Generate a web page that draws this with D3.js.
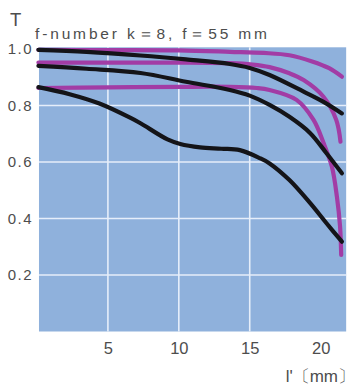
<!DOCTYPE html>
<html>
<head>
<meta charset="utf-8">
<script src="https://cdn.jsdelivr.net/npm/d3@7"></script>
<style>
  html, body { margin: 0; padding: 0; background: #ffffff; }
  svg { display: block; }
  text { font-family: "Liberation Sans", Arial, sans-serif; fill: #4d4d4d; }
</style>
</head>
<body>
<svg id="chart" width="359" height="392"></svg>
<script>
// ---- data ----
const xTicks = [5, 10, 15, 20];
const yTicks = [0.2, 0.4, 0.6, 0.8, 1.0];
const xGrid = [5, 10, 15];
const yGrid = [0.2, 0.4, 0.6, 0.8];

const purple1 = [[0.1,0.997],[5,0.996],[10,0.995],[13.6,0.99],[16,0.986],[17.8,0.978],[19.4,0.956],[20.6,0.932],[21.5,0.902]];
const purple2 = [[0.1,0.952],[5,0.952],[10,0.952],[13.6,0.950],[15.2,0.945],[16.4,0.936],[17.8,0.914],[18.8,0.89],[20.2,0.831],[21.1,0.749],[21.4,0.672]];
const purple3 = [[0.1,0.862],[5,0.864],[10,0.866],[13.6,0.866],[15.5,0.862],[16.4,0.855],[18.3,0.82],[19.5,0.749],[20.2,0.668],[20.8,0.582],[21.15,0.476],[21.37,0.371],[21.45,0.271]];
const black1 = [[0.1,0.997],[3.5,0.99],[7.3,0.977],[10.5,0.963],[13.6,0.947],[15.0,0.933],[16.4,0.908],[18.8,0.849],[20.2,0.813],[21.5,0.772]];
const black2 = [[0.1,0.94],[3.5,0.93],[7.3,0.915],[10.5,0.884],[13.6,0.855],[15,0.835],[16.4,0.802],[17.8,0.76],[19.25,0.703],[20.4,0.632],[21.5,0.56]];
const black3 = [[0.1,0.865],[2.3,0.84],[4.4,0.807],[6.6,0.756],[7.3,0.737],[9.2,0.68],[10.1,0.664],[11.5,0.652],[13.0,0.647],[14.3,0.642],[15.7,0.614],[16.4,0.595],[17.8,0.536],[19.25,0.455],[20.4,0.384],[21.5,0.318]];

const purpleSeries = [purple1, purple2, purple3];
const blackSeries = [black1, black2, black3];

// ---- layout ----
const svg = d3.select("#chart");
const x = d3.scaleLinear().domain([0, 22]).range([37, 349]);
const y = d3.scaleLinear().domain([0, 1]).range([331.5, 49]);

// plot background
svg.append("rect")
  .attr("x", x(0.14)).attr("y", y(1.006))
  .attr("width", x(21.8) - x(0.14))
  .attr("height", y(0) - y(1.006))
  .attr("fill", "#8fb1dc");

// grid
svg.append("g").selectAll("line").data(yGrid).join("line")
  .attr("x1", x(0.14)).attr("x2", x(21.8))
  .attr("y1", d => y(d)).attr("y2", d => y(d))
  .attr("stroke", "#e6eefa").attr("stroke-width", 1.6);
svg.append("g").selectAll("line").data(xGrid).join("line")
  .attr("x1", d => x(d)).attr("x2", d => x(d))
  .attr("y1", y(1.006)).attr("y2", y(0))
  .attr("stroke", "#e6eefa").attr("stroke-width", 1.6);

// axes (labels only)
const xAxis = d3.axisBottom(x).tickValues(xTicks).tickSize(0).tickPadding(0).tickFormat(d3.format("d"));
const gx = svg.append("g").attr("transform", `translate(0, ${y(0) + 11})`).call(xAxis);
gx.select(".domain").remove();
gx.selectAll("text").attr("font-size", 16.5).attr("dy", "0.71em")
  .attr("font-family", "'Liberation Sans', Arial, sans-serif").attr("fill", "#4d4d4d");

const yAxis = d3.axisLeft(y).tickValues(yTicks).tickSize(0).tickPadding(0).tickFormat(d3.format(".1f"));
const gy = svg.append("g").attr("transform", `translate(33, 0)`).call(yAxis);
gy.select(".domain").remove();
gy.selectAll("text").attr("font-size", 15).attr("letter-spacing", 1.5)
  .attr("font-family", "'Liberation Sans', Arial, sans-serif").attr("fill", "#4d4d4d");

// curves
const line = d3.line().x(d => x(d[0])).y(d => y(d[1])).curve(d3.curveCatmullRom.alpha(0.5));
svg.append("g").selectAll("path").data(purpleSeries).join("path")
  .attr("d", line).attr("fill", "none")
  .attr("stroke", "#a23ca5").attr("stroke-width", 4.2).attr("stroke-linecap", "round");
svg.append("g").selectAll("path").data(blackSeries).join("path")
  .attr("d", line).attr("fill", "none")
  .attr("stroke", "#141418").attr("stroke-width", 4.2).attr("stroke-linecap", "round");

// texts
svg.append("text").attr("x", 10).attr("y", 26).attr("font-size", 18.5).text("T");
svg.append("text").attr("x", 35).attr("y", 38.5).attr("font-size", 15.5)
  .attr("textLength", 232).attr("lengthAdjust", "spacing")
  .text("f-number k\uFF1D8, f\uFF1D55 mm");
svg.append("text").attr("x", 355).attr("y", 382).attr("font-size", 17)
  .attr("text-anchor", "end").text("l'\u3014mm\u3015");
</script>
</body>
</html>
